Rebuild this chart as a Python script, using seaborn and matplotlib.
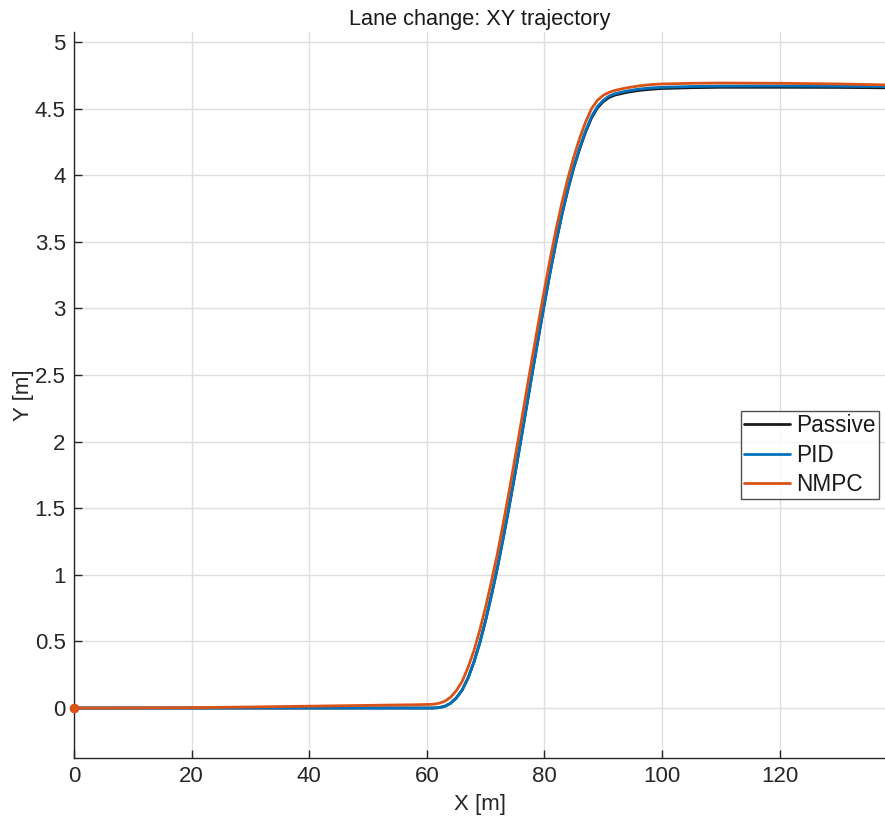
import matplotlib
matplotlib.use("Agg")
import matplotlib.pyplot as plt
import seaborn as sns
import pandas as pd

x_pos = [0, 10, 20, 30, 40, 50, 58, 61, 62, 63, 64, 65, 66, 67, 68, 69, 70, 71, 72, 73,
         74, 75, 76, 77, 78, 79, 80, 81, 82, 83, 84, 85, 86, 87, 88, 89, 90, 91, 92, 94,
         96, 98, 100, 105, 110, 120, 130, 138]

y_nmpc = [0, 0.001, 0.003, 0.008, 0.014, 0.02, 0.025, 0.028, 0.035, 0.05, 0.08, 0.13, 0.2,
          0.305, 0.43, 0.585, 0.76, 0.955, 1.16, 1.39, 1.63, 1.88, 2.135, 2.395, 2.65, 2.9,
          3.145, 3.38, 3.6, 3.8, 3.98, 4.14, 4.28, 4.4, 4.5, 4.562, 4.6, 4.622, 4.637, 4.656,
          4.67, 4.68, 4.685, 4.69, 4.692, 4.69, 4.685, 4.678]

y_pid = [0, 0, 0, 0, 0, 0, 0, 0, 0.003, 0.012, 0.035, 0.075, 0.135, 0.225, 0.345, 0.49,
         0.66, 0.85, 1.055, 1.28, 1.515, 1.76, 2.015, 2.275, 2.535, 2.79, 3.04, 3.28, 3.505,
         3.715, 3.9, 4.065, 4.21, 4.335, 4.44, 4.515, 4.563, 4.594, 4.612, 4.632, 4.646,
         4.655, 4.66, 4.666, 4.669, 4.67, 4.668, 4.665]

y_passive = [0, 0, 0, 0, 0, 0, 0, 0, 0.003, 0.012, 0.035, 0.075, 0.135, 0.225, 0.345, 0.49,
             0.66, 0.85, 1.055, 1.28, 1.515, 1.76, 2.015, 2.275, 2.535, 2.79, 3.04, 3.28,
             3.505, 3.71, 3.895, 4.06, 4.2, 4.325, 4.43, 4.505, 4.553, 4.584, 4.602, 4.622,
             4.636, 4.645, 4.651, 4.657, 4.66, 4.66, 4.659, 4.656]

series_names = ["Passive", "PID", "NMPC"]
series_colors = ["#1a1a1a", "#0072BD", "#D95319"]
x_ticks = [0, 20, 40, 60, 80, 100, 120]
y_ticks = [0, 0.5, 1, 1.5, 2, 2.5, 3, 3.5, 4, 4.5, 5]
y_tick_labels = ["0", "0.5", "1", "1.5", "2", "2.5", "3", "3.5", "4", "4.5", "5"]
start_point = (0, 0)

rows = []
for name, ys in zip(series_names, [y_passive, y_pid, y_nmpc]):
    for xv, yv in zip(x_pos, ys):
        rows.append({"X": xv, "Y": yv, "Controller": name})
df = pd.DataFrame(rows)

sns.set_style("white")
plt.rcParams['font.family'] = ['Liberation Sans', 'DejaVu Sans']

fig = plt.figure(figsize=(8.85, 8.23), dpi=100)
ax = fig.add_axes([74/885, 65/823, 811/885, 726/823])

sns.lineplot(data=df, x="X", y="Y", hue="Controller", hue_order=series_names,
             palette=dict(zip(series_names, series_colors)), sort=False,
             estimator=None, linewidth=2.0, ax=ax)
ax.plot([start_point[0]], [start_point[1]], 'o', color=series_colors[2],
        markersize=6, clip_on=False, zorder=5)

ax.set_xlim(0, 137.9)
ax.set_ylim(-0.375, 5.075)
ax.set_xticks(x_ticks)
ax.set_yticks(y_ticks)
ax.set_yticklabels(y_tick_labels)
ax.grid(True, color="#dedede", linewidth=1.0)
ax.set_axisbelow(True)
for s in ["top", "right"]:
    ax.spines[s].set_visible(False)
for s in ["left", "bottom"]:
    ax.spines[s].set_color("#262626")
    ax.spines[s].set_linewidth(1.0)
ax.tick_params(direction="in", length=6, width=1.0, colors="#262626",
               labelsize=16, pad=6, left=True, bottom=True)
ax.set_xlabel("X [m]", fontsize=16, color="#262626", labelpad=5)
ax.set_ylabel("Y [m]", fontsize=16, color="#262626", labelpad=0.5)
ax.set_title("Lane change: XY trajectory", fontsize=15.7, color="#1a1a1a", pad=5)

leg = ax.legend(loc="center right", bbox_to_anchor=(0.993, 0.417), fontsize=16.3,
                frameon=True, fancybox=False, handlelength=2.05, labelspacing=0.28,
                borderpad=0.15, handletextpad=0.27, borderaxespad=0)
leg.get_frame().set_edgecolor("#262626")
leg.get_frame().set_linewidth(1.0)
for t in leg.get_texts():
    t.set_color("#1a1a1a")

fig.savefig("out.png", dpi=100)
